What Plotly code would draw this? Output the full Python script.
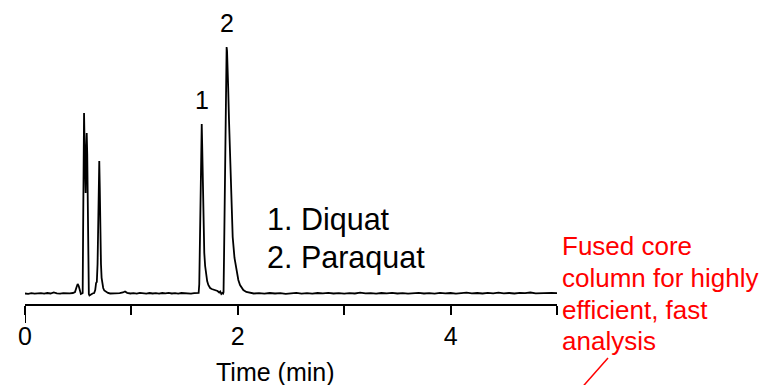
import plotly.graph_objects as go

# Chromatogram trace: time (min) and detector signal (arbitrary units)
time_min = [
    0.00, 0.03, 0.06, 0.09, 0.12, 0.15, 0.18, 0.21, 0.24, 0.27, 0.30, 0.33, 0.36, 0.39, 0.42, 0.45,
    0.47, 0.485, 0.495, 0.505, 0.515, 0.525, 0.535, 0.542,
    0.546, 0.550, 0.555, 0.560, 0.566, 0.570, 0.575, 0.580, 0.585, 0.590, 0.595, 0.600, 0.606, 0.612,
    0.620, 0.635, 0.650, 0.660, 0.668, 0.675, 0.682, 0.688, 0.693, 0.698, 0.703, 0.708, 0.714, 0.720,
    0.728, 0.735, 0.745, 0.760, 0.780, 0.800,
    0.83, 0.86, 0.89, 0.92, 0.94, 0.96, 0.99, 1.02, 1.05, 1.08, 1.11, 1.14, 1.17, 1.20, 1.23, 1.26,
    1.29, 1.32, 1.35, 1.38, 1.41, 1.44, 1.47, 1.50, 1.53, 1.56, 1.59, 1.62, 1.632,
    1.638, 1.643, 1.648, 1.653, 1.658, 1.661, 1.665, 1.670, 1.676, 1.685, 1.693, 1.701, 1.712, 1.723,
    1.740, 1.755, 1.770, 1.790, 1.810, 1.825, 1.835, 1.845, 1.855, 1.862,
    1.866, 1.871, 1.876, 1.881, 1.886, 1.891, 1.895, 1.899, 1.904, 1.910, 1.917, 1.927, 1.939, 1.952,
    1.969, 1.990, 2.005, 2.021, 2.035, 2.052, 2.080, 2.115, 2.150,
    2.20, 2.25, 2.30, 2.35, 2.40, 2.45, 2.50, 2.55, 2.60, 2.65, 2.70, 2.75, 2.80, 2.85, 2.90, 2.95,
    3.00, 3.05, 3.10, 3.15, 3.20, 3.25, 3.30, 3.35, 3.40, 3.45, 3.50, 3.55, 3.60, 3.65, 3.70, 3.75,
    3.80, 3.85, 3.90, 3.95, 4.00, 4.05, 4.10, 4.15, 4.20, 4.25, 4.30, 4.35, 4.40, 4.45, 4.50, 4.55,
    4.60, 4.65, 4.70, 4.75, 4.80, 4.85, 4.90, 4.95, 5.00,
]
signal = [
    0.5, 0.2, 0.8, 0.3, 0.6, 0.9, 0.4, 1.0, 0.5, 1.5, 0.6, 0.3, 0.8, 0.4, 0.7, 1.0,
    2, 7, 10, 8, 3, 0, 0.5, 1,
    60, 150, 181, 150, 110, 101, 140, 161, 140, 60, 10, 0, -1.5, -1,
    0, 0.5, 1, 4, 11, 12, 30, 80, 120, 133, 105, 60, 30, 16,
    9, 6, 3.5, 2, 1, 0.5,
    0.6, 0.3, 0.8, 1.5, 2.5, 1.2, 0.5, 0.8, 0.3, 1.2, 0.6, 0.4, 1.0, 0.5, 0.8, 0.3,
    1.0, 0.6, 1.2, 0.5, 0.8, 0.4, 1.0, 0.6, 0.9, 0.4, 0.8, 0.5, 1,
    10, 50, 100, 145, 168, 170, 150, 110, 74, 41, 28, 20, 13, 9,
    6, 5, 4.5, 3.5, 3, 1.5, 2.5, 0, 1, 0.5,
    2, 40, 95, 155, 205, 240, 247, 243, 230, 205, 175, 141, 95, 57,
    36, 21, 14, 9, 6, 4, 2, 1, 0.5,
    0.8, 0.3, 1.0, 0.5, 0.9, 0.2, 0.7, 1.1, 0.4, 0.8, 0.3, 1.0, 0.6, 1.2, 0.5, 0.8,
    0.3, 0.9, 0.5, 1.3, 0.6, 0.9, 0.4, 1.0, 0.6, 1.2, 0.5, 0.9, 0.3, 0.8, 1.1, 0.5,
    0.9, 0.4, 1.2, 0.6, 1.0, 0.4, 0.8, 1.3, 0.6, 1.0, 0.5, 1.1, 0.7, 1.4, 0.6, 1.0,
    0.5, 1.2, 0.8, 1.5, 0.7, 1.0, 0.6, 1.1, 0.9,
]

tick_vals = [0, 1, 2, 3, 4, 5]
tick_text = ["0", "", "2", "", "4", ""]

peak_labels = ["1", "2"]
peak_times = [1.661, 1.895]
peak_heights = [170, 247]

legend_lines = ["1. Diquat", "2. Paraquat"]
note_lines = ["Fused core", "column for highly", "efficient, fast", "analysis"]

FONT = "Liberation Sans, Arial, Helvetica, sans-serif"
W, H = 763, 385
ML, MR, MT, MB = 25, 206, 0, 81
PW, PH = W - ML - MR, H - MT - MB


def px(x):
    return (x - ML) / PW


def py(y):
    return (MT + PH - y) / PH


fig = go.Figure()
fig.add_trace(go.Scatter(x=time_min, y=signal, mode="lines",
                         line=dict(color="black", width=1.8), hoverinfo="skip"))

ann = []
for lab, t, h in zip(peak_labels, peak_times, peak_heights):
    ann.append(dict(x=t, y=h, xref="x", yref="y", text=lab, showarrow=False,
                    yanchor="bottom", yshift=8, font=dict(size=25, color="black")))

for i, line in enumerate(legend_lines):
    ann.append(dict(x=px(265), y=py([220, 257][i]), xref="paper", yref="paper", text=line,
                    showarrow=False, xanchor="left", yanchor="middle",
                    font=dict(size=30.5, color="black")))

for i, line in enumerate(note_lines):
    ann.append(dict(x=px(560), y=py([246, 278, 309.5, 341][i]), xref="paper", yref="paper",
                    text=line, showarrow=False, xanchor="left", yanchor="middle",
                    font=dict(size=26, color="red")))

ann.append(dict(x=2.35, y=py(372), xref="x", yref="paper", text="Time (min)", showarrow=False,
                xanchor="center", yanchor="middle", font=dict(size=25, color="black")))

shapes = [
    dict(type="line", xref="x", yref="paper", x0=0, x1=0, y0=0, y1=py(323),
         line=dict(color="black", width=2)),
    dict(type="line", xref="paper", yref="paper", x0=px(608), y0=py(358), x1=px(578), y1=py(392),
         line=dict(color="red", width=1.5)),
]

fig.update_layout(
    width=W, height=H,
    margin=dict(l=ML, r=MR, t=MT, b=MB),
    paper_bgcolor="white", plot_bgcolor="white",
    font=dict(family=FONT, size=25, color="black"),
    showlegend=False,
    annotations=ann,
    shapes=shapes,
    xaxis=dict(range=[0, 5], showgrid=False, zeroline=False, showline=True, linecolor="black",
               linewidth=2, ticks="outside", ticklen=9, tickwidth=2, tickcolor="black",
               tickvals=tick_vals, ticktext=tick_text, tickfont=dict(size=25)),
    yaxis=dict(range=[-10, 294], visible=False, showgrid=False, zeroline=False),
)

fig.write_html("out.html", config={"displayModeBar": False},
               post_script="document.body.style.margin='0px';document.body.style.overflow='hidden';")
